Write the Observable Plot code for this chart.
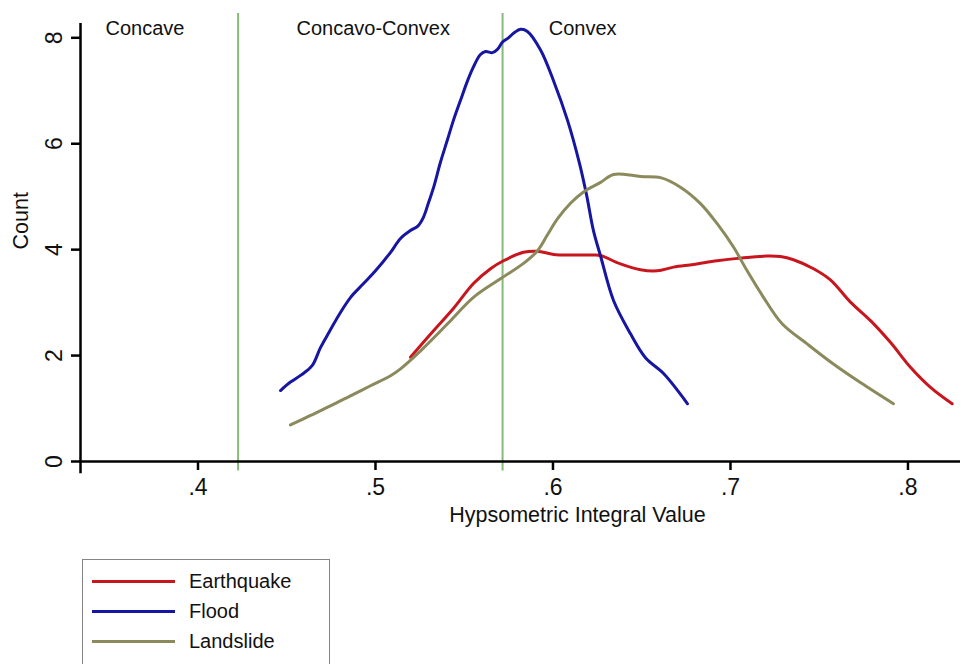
<!DOCTYPE html>
<html>
<head>
<meta charset="utf-8">
<script src="https://cdn.jsdelivr.net/npm/d3@7"></script>
<script src="https://cdn.jsdelivr.net/npm/@observablehq/plot@0.6"></script>
<style>
  html, body { margin: 0; padding: 0; background: #fff; }
  body { width: 961px; height: 664px; overflow: hidden; position: relative; font-family: "Liberation Sans", Arial, sans-serif; }
  #legend { position: absolute; left: 82px; top: 559px; width: 248px; height: 120px; border: 1px solid #858585; box-sizing: border-box; padding-top: 6px; }
  .item { height: 30px; display: flex; align-items: center; font-size: 20px; color: #111; }
  .swatch { width: 83px; height: 3px; margin-left: 9px; margin-right: 14px; }
</style>
</head>
<body>
<div id="chart"></div>
<div id="legend"></div>
<script>
// ---- data ----
const seriesNames = ["Earthquake", "Flood", "Landslide"];
const seriesColors = ["#c8161e", "#1616a2", "#8b8a5c"];

const earthquakeX = [0.5197, 0.5327, 0.5439, 0.5552, 0.5648, 0.5721, 0.5834, 0.5913, 0.6003, 0.6120, 0.6228, 0.6268, 0.6380, 0.6493, 0.6587, 0.6679, 0.6792, 0.6925, 0.7056, 0.7207, 0.7282, 0.7355, 0.7468, 0.7563, 0.7676, 0.7789, 0.7901, 0.8014, 0.8127, 0.8249];
const earthquakeY = [1.97, 2.47, 2.89, 3.36, 3.64, 3.79, 3.95, 3.97, 3.91, 3.90, 3.90, 3.89, 3.73, 3.62, 3.60, 3.67, 3.72, 3.79, 3.84, 3.88, 3.87, 3.81, 3.64, 3.43, 3.01, 2.66, 2.25, 1.78, 1.40, 1.09];

const floodX = [0.4465, 0.4521, 0.4580, 0.4643, 0.4690, 0.4740, 0.4800, 0.4860, 0.4930, 0.5000, 0.5085, 0.5141, 0.5197, 0.5240, 0.5270, 0.5300, 0.5327, 0.5366, 0.5404, 0.5440, 0.5479, 0.5520, 0.5552, 0.5590, 0.5620, 0.5659, 0.5687, 0.5716, 0.5749, 0.5783, 0.5817, 0.5856, 0.5930, 0.6003, 0.6082, 0.6150, 0.6190, 0.6228, 0.6268, 0.6341, 0.6437, 0.6521, 0.6623, 0.6758];
const floodY = [1.34, 1.50, 1.63, 1.81, 2.15, 2.45, 2.80, 3.10, 3.35, 3.60, 3.95, 4.21, 4.36, 4.45, 4.61, 4.90, 5.17, 5.65, 6.06, 6.45, 6.82, 7.20, 7.45, 7.68, 7.74, 7.72, 7.78, 7.92, 8.00, 8.10, 8.16, 8.12, 7.77, 7.19, 6.44, 5.62, 5.02, 4.36, 3.88, 3.04, 2.41, 1.96, 1.66, 1.09];

const landslideX = [0.4521, 0.4634, 0.4746, 0.4859, 0.4972, 0.5085, 0.5141, 0.5254, 0.5406, 0.5552, 0.5704, 0.5834, 0.5913, 0.5969, 0.6025, 0.6100, 0.6172, 0.6268, 0.6341, 0.6454, 0.6493, 0.6606, 0.6718, 0.6831, 0.6925, 0.7017, 0.7094, 0.7186, 0.7291, 0.7432, 0.7580, 0.7732, 0.7918];
const landslideY = [0.69, 0.87, 1.05, 1.24, 1.43, 1.62, 1.75, 2.09, 2.60, 3.10, 3.45, 3.74, 3.98, 4.28, 4.58, 4.88, 5.09, 5.27, 5.42, 5.40, 5.38, 5.36, 5.18, 4.87, 4.49, 4.05, 3.60, 3.10, 2.60, 2.22, 1.84, 1.49, 1.09];

const classBoundaries = [0.4226, 0.5716];
const zoneNames = ["Concave", "Concavo-Convex", "Convex"];
const zoneStartX = [0.3479, 0.4555, 0.5976];
const zoneLabelY = 8.18;

const xTicks = [0.4, 0.5, 0.6, 0.7, 0.8];
const xTickLabels = [".4", ".5", ".6", ".7", ".8"];
const yTicks = [0, 2, 4, 6, 8];
const yTickLabels = ["0", "2", "4", "6", "8"];
const xTitle = "Hypsometric Integral Value";
const yTitle = "Count";
const xDomain = [0.3338, 0.8296];
const yDomain = [0, 8.27];

// ---- build table ----
const rows = [];
[[earthquakeX, earthquakeY], [floodX, floodY], [landslideX, landslideY]].forEach(([xs, ys], s) => {
  xs.forEach((x, i) => rows.push({series: seriesNames[s], x, y: ys[i]}));
});
const zones = zoneNames.map((name, i) => ({name, x: zoneStartX[i], y: zoneLabelY}));

const chart = Plot.plot({
  width: 961,
  height: 545,
  marginLeft: 80,
  marginRight: 1,
  marginTop: 23,
  marginBottom: 84,
  x: {domain: xDomain},
  y: {domain: yDomain},
  color: {domain: seriesNames, range: seriesColors},
  style: {fontFamily: "'Liberation Sans', Arial, sans-serif", fontSize: "19px", color: "#111", background: "#fff"},
  marks: [
    Plot.ruleX(classBoundaries, {y1: -0.18, y2: 8.46, stroke: "#86b97a", strokeWidth: 2}),
    Plot.ruleY([0], {stroke: "#000", strokeWidth: 2.5}),
    Plot.ruleX([xDomain[0]], {y1: -0.23, y2: yDomain[1], stroke: "#000", strokeWidth: 2.5}),
    Plot.axisX(xTicks, {tickSize: 9, strokeWidth: 2.5, stroke: "#000", tickPadding: 8, fontSize: 23, tickFormat: (d) => xTickLabels[xTicks.indexOf(d)], label: null}),
    Plot.axisY(yTicks, {tickSize: 9, strokeWidth: 2.5, stroke: "#000", tickRotate: -90, tickPadding: 10, fontSize: 23, tickFormat: (d) => yTickLabels[yTicks.indexOf(d)], label: null}),
    Plot.text([xTitle], {frameAnchor: "bottom", dx: 57, dy: 60, fontSize: 21.5, fill: "#111"}),
    Plot.text([yTitle], {frameAnchor: "left", rotate: -90, dx: -59, dy: 7, fontSize: 21.5, fill: "#111"}),
    Plot.text(zones, {x: "x", y: "y", text: "name", textAnchor: "start", fontSize: 20, fill: "#111"}),
    Plot.line(rows, {x: "x", y: "y", z: "series", stroke: "series", strokeWidth: 3, curve: "catmull-rom", strokeLinejoin: "round", strokeLinecap: "round"})
  ]
});
document.getElementById("chart").append(chart);

// ---- legend ----
const legend = document.getElementById("legend");
seriesNames.forEach((name, i) => {
  const item = document.createElement("div");
  item.className = "item";
  const sw = document.createElement("span");
  sw.className = "swatch";
  sw.style.background = seriesColors[i];
  const label = document.createElement("span");
  label.textContent = name;
  item.append(sw, label);
  legend.append(item);
});
</script>
</body>
</html>
